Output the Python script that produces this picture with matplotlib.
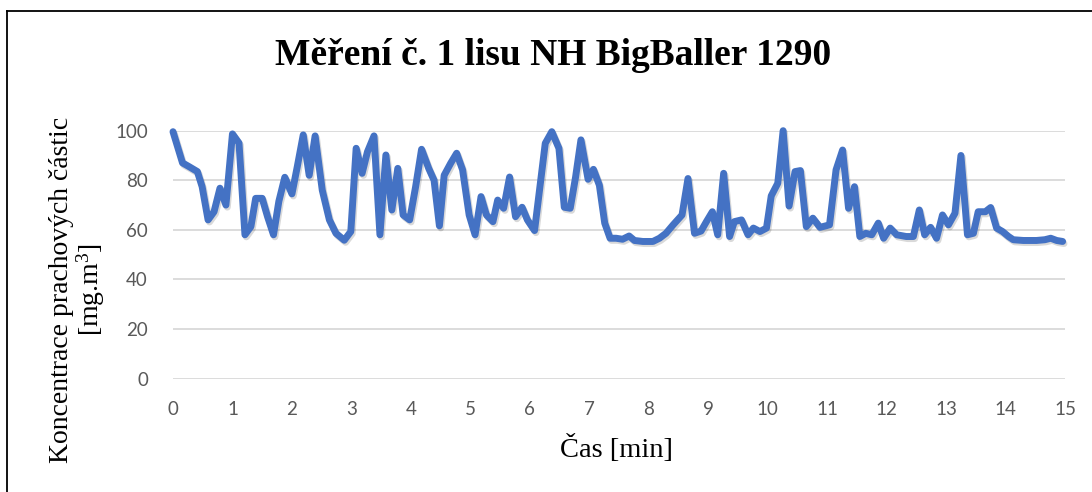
import matplotlib
matplotlib.use("Agg")
import matplotlib.pyplot as plt
from matplotlib.lines import Line2D
import matplotlib.patheffects as pe

# ---- data ----
time_min = [0, 0.16, 0.27, 0.41, 0.49, 0.59, 0.69, 0.79, 0.89, 1.0, 1.11, 1.21, 1.31, 1.39,
            1.50, 1.59, 1.69, 1.78, 1.88, 2.0, 2.09, 2.19, 2.29, 2.39, 2.51, 2.63, 2.74, 2.88,
            2.99, 3.08, 3.18, 3.27, 3.38, 3.48, 3.58, 3.68, 3.78, 3.87, 3.98, 4.08, 4.18, 4.30,
            4.39, 4.48, 4.56, 4.67, 4.77, 4.87, 4.98, 5.08, 5.18, 5.27, 5.38, 5.46, 5.56, 5.66,
            5.76, 5.87, 5.96, 6.08, 6.17, 6.26, 6.37, 6.49, 6.58, 6.68, 6.77, 6.86, 6.98, 7.07,
            7.17, 7.26, 7.35, 7.45, 7.56, 7.67, 7.76, 7.90, 8.07, 8.18, 8.29, 8.41, 8.56, 8.66,
            8.77, 8.88, 8.97, 9.07, 9.16, 9.26, 9.36, 9.44, 9.56, 9.67, 9.76, 9.87, 9.98, 10.06,
            10.17, 10.26, 10.36, 10.46, 10.55, 10.65, 10.76, 10.88, 11.04, 11.15, 11.26, 11.36,
            11.46, 11.55, 11.65, 11.75, 11.86, 11.95, 12.06, 12.17, 12.33, 12.45, 12.55, 12.64,
            12.74, 12.84, 12.94, 13.04, 13.15, 13.25, 13.36, 13.46, 13.54, 13.66, 13.75, 13.85,
            13.95, 14.05, 14.13, 14.30, 14.52, 14.66, 14.76, 14.86, 14.96]
concentration = [99.6, 87, 85.5, 83.5, 77.4, 64, 67.3, 76.8, 70, 98.7, 95, 58, 61.3, 72.7,
                 72.7, 65.3, 58, 71.5, 81.2, 74.5, 85.5, 98.3, 82, 97.9, 76, 64, 58.6, 55.8,
                 59.3, 92.9, 82.8, 91.5, 97.9, 58, 90.2, 68, 84.8, 66, 64, 77.4, 92.5, 84.8,
                 80, 61.6, 82, 86.9, 90.9, 84.2, 66, 58, 73.4, 66, 63.3, 72, 68.7, 81.3,
                 65.3, 69.1, 64, 59.7, 77.4, 94.9, 99.6, 92.9, 69.1, 68.7, 81.3, 96.3, 80.4, 84.4,
                 78, 62.7, 56.6, 56.6, 56.2, 57.5, 55.7, 55.3, 55.3, 56.6, 58.6, 62, 66, 80.7,
                 58.6, 59.5, 63.3, 67.3, 58, 82.8, 57.3, 63.3, 64, 58, 60.7, 59.3, 60.7, 73.7,
                 78.8, 100, 69.6, 83.5, 83.9, 61.3, 64.7, 61, 62, 84.2, 92.2, 68.7,
                 77.4, 57.3, 58.6, 58, 62.7, 56.6, 60.7, 58, 57.3, 57.3, 68, 58,
                 61, 56.6, 66, 62, 66.7, 90, 58, 58.6, 67.3, 67.3, 69, 60.7,
                 59.3, 57.3, 56, 55.7, 55.7, 56, 56.6, 55.7, 55.3]
x_ticks = list(range(0, 16))
y_ticks = [0, 20, 40, 60, 80, 100]
title = "Měření č. 1 lisu NH BigBaller 1290"
x_label = "Čas [min]"
y_label = "Koncentrace prachových částic\n[mg.m$^{3}$]"

plt.rcParams['mathtext.fontset'] = 'custom'
plt.rcParams['mathtext.rm'] = 'Liberation Serif'
plt.rcParams['mathtext.it'] = 'Liberation Serif:italic'

W, H = 1092, 492
fig = plt.figure(figsize=(W / 100, H / 100), dpi=100)
fig.patch.set_facecolor('white')

left, right = 173, 1065
top, bottom = 130.7, 378.5
ax = fig.add_axes([left / W, 1 - bottom / H, (right - left) / W, (bottom - top) / H])
ax.set_xlim(0, 15)
ax.set_ylim(0, 100)

ax.plot(time_min, concentration, color='#4472C4', lw=5, solid_joinstyle='round',
        solid_capstyle='round', clip_on=False, zorder=3,
        path_effects=[pe.SimpleLineShadow(offset=(1.0, -1.5), shadow_color='black', alpha=0.15),
                      pe.Normal()])

ax.set_xticks(x_ticks)
ax.set_yticks(y_ticks)
ax.grid(axis='y', color='#D9D9D9', lw=1.3)
ax.set_axisbelow(True)
for s in ax.spines.values():
    s.set_visible(False)
ax.tick_params(length=0, labelsize=13.5, labelcolor='#595959', pad=0)
ax.tick_params(axis='y', pad=18)
ax.tick_params(axis='x', pad=16)
for lab in ax.get_xticklabels() + ax.get_yticklabels():
    lab.set_fontfamily('Lato')

fig.text(553 / W, 1 - 65 / H, title, ha='center', va='baseline',
         fontfamily='Liberation Serif', fontweight='bold', fontsize=27)
fig.text(617 / W, 1 - 449 / H, x_label, ha='center', va='center',
         fontfamily='Liberation Serif', fontsize=20.5)
fig.text(78 / W, 1 - 290 / H, y_label, ha='center', va='center', rotation=90,
         multialignment='center', fontfamily='Liberation Serif', fontsize=20,
         linespacing=1.05)

# outer frame (only top and left edges visible in the reference)
fig.add_artist(Line2D([6.5 / W, 1], [1 - 10.5 / H, 1 - 10.5 / H], transform=fig.transFigure,
                      color='black', lw=1.3))
fig.add_artist(Line2D([6.5 / W, 6.5 / W], [0, 1 - 10.5 / H], transform=fig.transFigure,
                      color='black', lw=1.3))

fig.savefig('out.png', dpi=100)
